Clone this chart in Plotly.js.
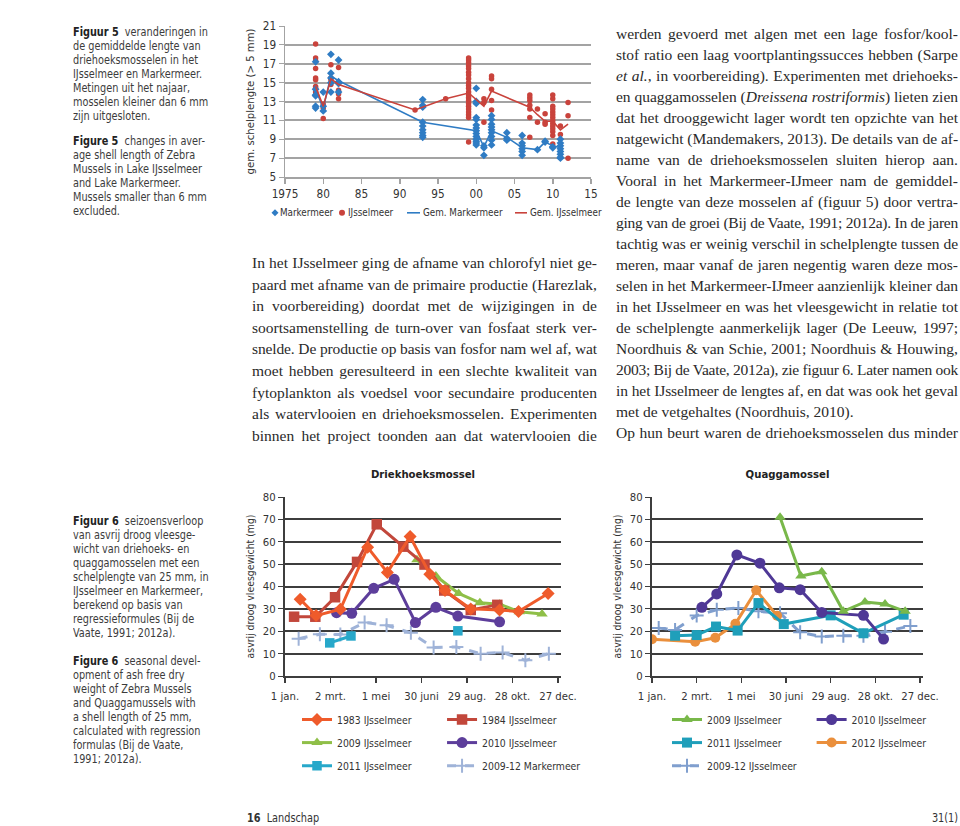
<!DOCTYPE html>
<html><head><meta charset="utf-8">
<script src="https://cdn.plot.ly/plotly-3.0.1.min.js"></script>
<style>
html,body{margin:0;padding:0;background:#fff;}
#page{position:relative;width:960px;height:826px;overflow:hidden;background:#fff;color:#333;}
.cap{position:absolute;left:73px;font-size:12px;line-height:14px;color:#3c3c3c;white-space:nowrap;transform-origin:0 0;}
.cap b{color:#222;}
.col{position:absolute;font-family:'Liberation Serif','DejaVu Serif',serif;font-size:15.5px;color:#2a2a2a;}
.ln{position:absolute;left:0;white-space:nowrap;}
.ln span{display:inline-block;white-space:nowrap;}
.plot{position:absolute;}
.foot{position:absolute;font-size:12px;line-height:14px;color:#333;white-space:nowrap;}
</style>
</head><body>
<div id="page">
  <div class="cap" id="cap5a" style="top:25px"><b>Figuur 5</b>&nbsp; veranderingen in<br>de gemiddelde lengte van<br>driehoeksmosselen in het<br>IJsselmeer en Markermeer.<br>Metingen uit het najaar,<br>mosselen kleiner dan 6 mm<br>zijn uitgesloten.</div>
  <div class="cap" id="cap5b" style="top:134px"><b>Figure 5</b>&nbsp; changes in aver-<br>age shell length of Zebra<br>Mussels in Lake IJsselmeer<br>and Lake Markermeer.<br>Mussels smaller than 6 mm<br>excluded.</div>
  <div class="cap" id="cap6a" style="top:514px"><b>Figuur 6</b>&nbsp; seizoensverloop<br>van asvrij droog vleesge-<br>wicht van driehoeks- en<br>quaggamosselen met een<br>schelplengte van 25 mm, in<br>IJsselmeer en Markermeer,<br>berekend op basis van<br>regressieformules (Bij de<br>Vaate, 1991; 2012a).</div>
  <div class="cap" id="cap6b" style="top:654px"><b>Figure 6</b>&nbsp; seasonal devel-<br>opment of ash free dry<br>weight of Zebra Mussels<br>and Quaggamussels with<br>a shell length of 25 mm,<br>calculated with regression<br>formulas (Bij de Vaate,<br>1991; 2012a).</div>
  <div class="col" id="colMid" style="left:252px;top:252px;width:345px"></div>
  <div class="col" id="colRight" style="left:616px;top:22.5px;width:342px"></div>
  <div class="plot" id="fig5" style="left:240px;top:15px;width:380px;height:215px"></div>
  <div class="plot" id="fig6a" style="left:230px;top:455px;width:370px;height:325px"></div>
  <div class="plot" id="fig6b" style="left:600px;top:455px;width:360px;height:325px"></div>
  <div class="foot" id="footL" style="left:247px;top:811px"><b>16</b>&nbsp; Landschap</div>
  <div class="foot" id="footR" style="right:2px;top:811px">31(1)</div>
</div>
<script>
// ---------- Figure 5 data: shell length per sample (year, values) ----------
const markermeerSamples = [
  [1979, [17.2, 14.3, 13.7, 13.6, 12.5, 12.3]],
  [1980, [14.0, 12.5, 12.0]],
  [1981, [18.0, 16.0, 15.5, 15.0, 14.0]],
  [1982, [17.4, 15.1, 14.9, 14.0]],
  [1993, [13.2, 12.6, 12.4, 10.8, 10.4, 10.0, 9.7, 9.4, 9.2]],
  [2000, [14.4, 13.0, 12.8, 11.3, 11.1, 10.5, 10.2, 9.9, 9.6, 9.3, 9.0, 8.8, 8.6, 8.4]],
  [2001, [8.3, 8.1, 7.3]],
  [2002, [11.5, 11.1, 10.6, 10.3, 10.0, 9.7, 9.3, 8.9, 8.4]],
  [2004, [9.7, 9.1, 8.9]],
  [2006, [9.4, 8.6, 8.3, 8.0, 7.7, 7.3]],
  [2008, [7.9]],
  [2009, [8.8, 8.7]],
  [2010, [8.2, 8.1]],
  [2011, [9.0, 8.6, 8.3, 8.0, 7.7, 7.4, 7.1, 7.0]]
];
const ijsselmeerSamples = [
  [1979, [19.1, 17.6, 17.3, 16.5, 15.5, 15.3, 14.6, 14.4, 14.0, 13.7]],
  [1980, [12.7, 12.3, 11.2]],
  [1981, [16.9, 15.5, 15.3, 14.8]],
  [1982, [16.6, 14.2, 13.8, 13.3]],
  [1992, [12.1]],
  [1996, [13.3]],
  [1999, [17.6, 17.4, 17.1, 16.8, 16.5, 16.1, 15.8, 15.4, 15.0, 14.7, 14.4, 14.0, 13.7, 13.4, 13.1, 12.8, 12.5, 12.2, 11.9, 11.6, 11.3, 8.7]],
  [2001, [13.3, 12.9, 10.8]],
  [2002, [15.7, 15.4, 14.3, 13.1, 12.1]],
  [2007, [13.7, 13.4, 13.1, 12.6, 12.2, 11.3, 9.2]],
  [2008, [12.2, 10.8]],
  [2009, [11.7, 10.8, 10.6]],
  [2010, [13.7, 13.3, 12.5, 12.2, 11.9, 11.6, 11.3, 11.0, 10.7, 10.4, 10.1, 9.8, 9.4, 8.5]],
  [2011, [10.4, 9.5]],
  [2012, [12.9, 11.5, 7.0]]
];
const mmMeanYears = [1979, 1980, 1981, 1982, 1993, 2000, 2001, 2002, 2004, 2006, 2008, 2009, 2010, 2011];
const mmMeanVals  = [14.3, 12.3, 15.7, 15.2, 10.8, 9.9, 8.2, 9.9, 9.2, 8.1, 7.9, 8.7, 8.3, 8.1];
const ijMeanYears = [1979, 1980, 1981, 1982, 1992, 1996, 1999, 2001, 2002, 2007, 2008, 2009, 2010, 2011, 2012];
const ijMeanVals  = [14.6, 12.5, 15.4, 14.8, 12.1, 13.3, 13.9, 12.5, 14.1, 12.4, 11.6, 10.9, 10.9, 10.0, 10.6];
const fig5TickVals = [1975, 1980, 1985, 1990, 1995, 2000, 2005, 2010, 2015];
const fig5TickText = ['1975', '80', '85', '90', '95', '00', '05', '10', '15'];
const fig5Names = ['Markermeer', 'IJsselmeer', 'Gem. Markermeer', 'Gem. IJsselmeer'];

// ---------- Figure 6 data: day of year, ash free dry weight (mg) ----------
const dayTickVals = [0, 60, 120, 180, 240, 300, 360];
const dayTickText = ['1 jan.', '2 mrt.', '1 mei', '30 juni', '29 aug.', '28 okt.', '27 dec.'];
// Driekhoeksmossel
const z1983Day = [20, 41, 73, 109, 135, 165, 191, 211, 245, 283, 308, 347];
const z1983Val = [34.3, 27.0, 29.8, 57.5, 46.3, 62.3, 45.5, 38.2, 30.0, 29.5, 28.8, 36.9];
const z1984Day = [12, 40, 66, 95, 121, 156, 184, 210, 245, 280];
const z1984Val = [26.5, 26.5, 35.2, 51.0, 67.8, 57.8, 49.8, 38.2, 29.5, 31.8];
const z2009Day = [174, 199, 229, 257, 283, 309, 339];
const z2009Val = [51.9, 44.7, 36.9, 32.7, 32.1, 28.7, 27.7];
const z2010Day = [68, 88, 117, 144, 172, 199, 228, 283];
const z2010Val = [28.3, 28.0, 39.2, 43.2, 23.9, 30.7, 26.8, 24.2];
const z2011Day = [59, 87, null, 228];
const z2011Val = [14.8, 17.9, null, 20.2];
const zMarkDay = [18, 46, 73, 105, 134, 166, 196, 226, 258, 287, 317, 348];
const zMarkVal = [16.7, 18.7, 18.5, 23.9, 22.7, 19.3, 12.7, 13.0, 10.0, 10.5, 7.0, 10.0];
// Quaggamossel
const q2009Day = [172, 200, 228, 257, 286, 313, 340];
const q2009Val = [71.0, 44.7, 46.6, 28.9, 33.1, 32.2, 28.9];
const q2010Day = [67, 87, 114, 145, 171, 199, 228, 284, 311];
const q2010Val = [30.7, 36.7, 54.1, 50.4, 39.4, 38.6, 28.4, 27.1, 16.5];
const q2011Day = [31, 60, 86, 115, 143, 177, 240, 284, 338];
const q2011Val = [18.0, 18.3, 22.1, 20.3, 32.6, 23.2, 27.1, 19.1, 27.4];
const q2012Day = [0, 58, 85, 112, 140, 168];
const q2012Val = [16.4, 15.3, 17.1, 23.3, 38.3, 26.9];
const qIJDay = [9, 31, 60, 87, 116, 143, 172, 199, 228, 257, 284, 313, 347];
const qIJVal = [21.4, 20.6, 27.0, 29.6, 30.4, 28.9, 28.1, 19.5, 17.6, 18.0, 18.0, 19.8, 22.4];

// ---------- body text ----------
const midLines = [
  'In het IJsselmeer ging de afname van chlorofyl niet ge-',
  'paard met afname van de primaire productie (Harezlak,',
  'in voorbereiding) doordat met de wijzigingen in de',
  'soortsamenstelling de turn-over van fosfaat sterk ver-',
  'snelde. De productie op basis van fosfor nam wel af, wat',
  'moet hebben geresulteerd in een slechte kwaliteit van',
  'fytoplankton als voedsel voor secundaire producenten',
  'als watervlooien en driehoeksmosselen. Experimenten',
  'binnen het project toonden aan dat watervlooien die'
];
const rightLines = [
  'werden gevoerd met algen met een lage fosfor/kool-',
  'stof ratio een laag voortplantingssucces hebben (Sarpe',
  '<i>et al.</i>, in voorbereiding). Experimenten met driehoeks-',
  'en quaggamosselen (<i>Dreissena rostriformis</i>) lieten zien',
  'dat het drooggewicht lager wordt ten opzichte van het',
  'natgewicht (Mandemakers, 2013). De details van de af-',
  'name van de driehoeksmosselen sluiten hierop aan.',
  'Vooral in het Markermeer-IJmeer nam de gemiddel-',
  'de lengte van deze mosselen af (figuur 5) door vertra-',
  'ging van de groei (Bij de Vaate, 1991; 2012a). In de jaren',
  'tachtig was er weinig verschil in schelplengte tussen de',
  'meren, maar vanaf de jaren negentig waren deze mos-',
  'selen in het Markermeer-IJmeer aanzienlijk kleiner dan',
  'in het IJsselmeer en was het vleesgewicht in relatie tot',
  'de schelplengte aanmerkelijk lager (De Leeuw, 1997;',
  'Noordhuis &amp; van Schie, 2001; Noordhuis &amp; Houwing,',
  '2003; Bij de Vaate, 2012a), zie figuur 6. Later namen ook',
  'in het IJsselmeer de lengtes af, en dat was ook het geval',
  '!met de vetgehaltes (Noordhuis, 2010).',
  'Op hun beurt waren de driehoeksmosselen dus minder'
];

function hasFont(name){
  const c = document.createElement('canvas').getContext('2d');
  const s = 'mmmmmmmmmmlli1WQ@abcdefghijklmnop';
  for (const base of ['monospace','serif']) {
    c.font = '32px ' + base; const a = c.measureText(s).width;
    c.font = '32px "' + name + '",' + base; const b = c.measureText(s).width;
    if (a !== b) return true;
  }
  return false;
}
const narrowList = ['Liberation Sans Narrow','DejaVu Sans Condensed','Roboto Condensed','Open Sans Condensed','Arial Narrow'];
const found = narrowList.find(hasFont);
const SANS = found || 'Roboto';
const F = '"' + SANS + '", sans-serif';
const fs = found ? 0.9 : 0.8;

function textWidth(str, size){
  const probe = document.createElement('span');
  probe.style.cssText = 'position:absolute;visibility:hidden;white-space:nowrap;font-size:' + size + 'px;font-family:' + F;
  probe.textContent = str;
  document.body.appendChild(probe);
  const w = probe.getBoundingClientRect().width;
  probe.remove();
  return w;
}
const capScale = 129 / textWidth('Mussels in Lake IJsselmeer', 12);

// captions & footer font + fit
document.querySelectorAll('.cap,.foot').forEach(el => { el.style.fontFamily = F; });
document.querySelectorAll('.cap').forEach(el => { el.style.transform = 'scaleX(' + capScale.toFixed(3) + ')'; });
document.querySelectorAll('.foot').forEach(el => { el.style.transform = 'scaleX(' + capScale.toFixed(3) + ')'; el.style.transformOrigin = (el.id === 'footR') ? '100% 0' : '0 0'; });

function buildCol(id, lines, lh){
  const col = document.getElementById(id);
  const target = parseFloat(col.style.width);
  lines.forEach((t, i) => {
    const noJust = t.startsWith('!');
    const txt = noJust ? t.slice(1) : t;
    const d = document.createElement('div');
    d.className = 'ln';
    d.style.top = (i * lh) + 'px';
    d.style.lineHeight = lh + 'px';
    const sp = document.createElement('span');
    sp.innerHTML = txt;
    d.appendChild(sp);
    col.appendChild(d);
    const w = sp.getBoundingClientRect().width;
    const spaces = (sp.textContent.match(/ /g) || []).length;
    if (w > target) {
      const chars = sp.textContent.length;
      sp.style.letterSpacing = ((target - w) / chars) + 'px';
    } else if (!noJust && spaces > 0) {
      sp.style.wordSpacing = ((target - w) / spaces) + 'px';
    }
  });
}
buildCol('colMid', midLines, 21.6);
buildCol('colRight', rightLines, 21.05);

function flatten(samples){
  const x = [], y = [];
  samples.forEach(([yr, vals]) => vals.forEach(v => { x.push(yr); y.push(v); }));
  return {x, y};
}
const mm = flatten(markermeerSamples);
const ij = flatten(ijsselmeerSamples);

const BLUE = '#2f7cc4', RED = '#c9433c';
const cfg = {staticPlot: true, displayModeBar: false};
function leg(x, y, size){
  return {x: x, y: y, xanchor: 'left', yanchor: 'middle', orientation: 'v', bgcolor: 'rgba(0,0,0,0)',
          borderwidth: 0, font: {family: F, size: size, color: '#333'}, itemwidth: 30};
}

// ---------- Figure 5 ----------
(function(){
  const data = [
    {type: 'scatter', mode: 'markers', x: ij.x, y: ij.y, name: fig5Names[1], showlegend: false,
     marker: {symbol: 'circle', size: 5.5, color: RED}},
    {type: 'scatter', mode: 'markers', x: mm.x, y: mm.y, name: fig5Names[0], showlegend: false,
     marker: {symbol: 'diamond', size: 6, color: BLUE}},
    {type: 'scatter', mode: 'lines', x: mmMeanYears, y: mmMeanVals, name: fig5Names[2], showlegend: false,
     line: {color: BLUE, width: 1.6}},
    {type: 'scatter', mode: 'lines', x: ijMeanYears, y: ijMeanVals, name: fig5Names[3], showlegend: false,
     line: {color: RED, width: 1.6}}
  ];
  const GR = '#a3a3a3';
  // compact legend row (paper coords; plot spans page x 285..591, y bottom 177.1, height 151.4)
  const px = p => (p - 285) / 306;
  const LY = (177.1 - 213) / 151.4;
  const textX = [279, 347, 422, 529];
  const annotations = fig5Names.map((n, i) => ({
    text: n, xref: 'paper', yref: 'paper', x: px(textX[i]), y: LY, xanchor: 'left', yanchor: 'middle',
    showarrow: false, borderpad: 0, font: {family: F, size: 11.5 * 0.85, color: '#333'}
  }));
  const shapes = [
    {type: 'path', xref: 'paper', yref: 'paper', xsizemode: 'pixel', ysizemode: 'pixel',
     xanchor: px(275), yanchor: LY, path: 'M0,3.5 L3.5,0 L0,-3.5 L-3.5,0 Z', fillcolor: BLUE, line: {width: 0}},
    {type: 'circle', xref: 'paper', yref: 'paper', xsizemode: 'pixel', ysizemode: 'pixel',
     xanchor: px(342), yanchor: LY, x0: -3, x1: 3, y0: -3, y1: 3, fillcolor: RED, line: {width: 0}},
    {type: 'line', xref: 'paper', yref: 'paper', x0: px(407), x1: px(420), y0: LY, y1: LY, line: {color: BLUE, width: 1.6}},
    {type: 'line', xref: 'paper', yref: 'paper', x0: px(515), x1: px(527), y0: LY, y1: LY, line: {color: RED, width: 1.6}}
  ];
  const layout = {
    width: 380, height: 215, margin: {l: 45, r: 29, t: 10.7, b: 52.9, autoexpand: false},
    paper_bgcolor: 'rgba(0,0,0,0)', plot_bgcolor: 'rgba(0,0,0,0)',
    font: {family: F, size: 12 * fs, color: '#333'},
    showlegend: false, annotations: annotations, shapes: shapes,
    xaxis: {range: [1975, 2015], tickvals: fig5TickVals, ticktext: fig5TickText, showgrid: false,
            showline: true, linecolor: GR, linewidth: 1.5, ticks: 'outside', ticklen: 5, tickcolor: GR,
            tickwidth: 1.5, zeroline: false, automargin: false, tickfont: {size: 13 * fs, color: '#333'}},
    yaxis: {range: [5, 21], tick0: 5, dtick: 2, showgrid: true, gridcolor: GR, gridwidth: 2,
            showline: true, linecolor: GR, linewidth: 1.5, ticks: 'outside', ticklen: 5, tickcolor: GR,
            zeroline: false, automargin: false, tickfont: {size: 13 * fs, color: '#333'},
            title: {text: 'gem. schelplengte (> 5 mm)', font: {size: 12.5 * fs, color: '#333'}, standoff: 6}}
  };
  Plotly.newPlot('fig5', data, layout, cfg);
})();

// ---------- Figure 6 ----------
const DK = '#3d3d3d';
function fig6Layout(title, l, r, pw, legends){
  const H = 325, t = 42.3, ph = 178.4, b = H - t - ph;
  const lay = {
    width: l + r + pw, height: H,
    margin: {l: l, r: r, t: t, b: b, autoexpand: false},
    paper_bgcolor: 'rgba(0,0,0,0)', plot_bgcolor: 'rgba(0,0,0,0)',
    font: {family: F, size: 12 * fs, color: '#333'},
    showlegend: true,
    title: {text: '<b>' + title + '</b>', font: {family: F, size: 12.5 * fs, color: '#222'},
            x: 0.5, xref: 'paper', y: 1 - 19 / H, yref: 'container', yanchor: 'middle'},
    xaxis: {range: [0, 364], tickvals: dayTickVals, ticktext: dayTickText, showgrid: false,
            showline: true, linecolor: DK, linewidth: 2, ticks: 'outside', ticklen: 5, tickcolor: DK,
            tickwidth: 1.5, zeroline: false, automargin: false, ticklabelstandoff: 3, tickfont: {size: 12.5 * fs, color: '#333'}},
    yaxis: {range: [0, 80], dtick: 10, showgrid: true, gridcolor: DK, gridwidth: 2,
            showline: true, linecolor: DK, linewidth: 2, ticks: 'outside', ticklen: 5, tickcolor: DK,
            zeroline: false, automargin: false, tickfont: {size: 12.5 * fs, color: '#333'},
            title: {text: 'asvrij droog vleesgewicht (mg)', font: {size: 11.5 * fs, color: '#333'}, standoff: 6}}
  };
  legends.forEach((p, i) => { lay[i === 0 ? 'legend' : 'legend' + (i + 1)] = leg(p[0], p[1], 11.5 * fs); });
  return lay;
}
function series(x, y, name, color, symbol, size, legend, dash){
  const tr = {type: 'scatter', mode: 'lines+markers', x: x, y: y, name: name, legend: legend,
    line: {color: color, width: 3, dash: dash || 'solid'},
    marker: {symbol: symbol, size: size, color: color}, connectgaps: false};
  if (symbol === 'cross-thin') tr.marker = {symbol: 'cross-thin', size: size, color: color, line: {color: color, width: 2}};
  return tr;
}
// legend rows at page y 719, 742, 765; plot bottom at 675.7, height 178.4
const rowsL = [-0.243, -0.372, -0.501];
(function(){
  const data = [
    series(zMarkDay, zMarkVal, '2009-12 Markermeer', '#9fb3d8', 'cross-thin', 10, 'legend6', 'dash'),
    series(z2011Day, z2011Val, '2011 IJsselmeer', '#27a8ca', 'square', 9.5, 'legend5'),
    series(z2010Day, z2010Val, '2010 IJsselmeer', '#5d3e9b', 'circle', 11, 'legend4'),
    series(z2009Day, z2009Val, '2009 IJsselmeer', '#8fbf48', 'triangle-up', 10, 'legend3'),
    series(z1984Day, z1984Val, '1984 IJsselmeer', '#c2473b', 'square', 10.5, 'legend2'),
    series(z1983Day, z1983Val, '1983 IJsselmeer', '#ef5b2b', 'diamond', 10, 'legend')
  ];
  const lay = fig6Layout('Driekhoeksmossel', 55, 39.3, 275.7,
    [[0.0435, rowsL[0]], [0.569, rowsL[0]], [0.0435, rowsL[1]], [0.569, rowsL[1]], [0.0435, rowsL[2]], [0.569, rowsL[2]]]);
  Plotly.newPlot('fig6a', data, lay, cfg);
})();
(function(){
  const data = [
    series(qIJDay, qIJVal, '2009-12 IJsselmeer', '#809fce', 'cross-thin', 10, 'legend5', 'dash'),
    series(q2012Day, q2012Val, '2012 IJsselmeer', '#ea8f3c', 'circle', 10, 'legend4'),
    series(q2011Day, q2011Val, '2011 IJsselmeer', '#1f9fba', 'square', 10, 'legend3'),
    series(q2010Day, q2010Val, '2010 IJsselmeer', '#4f3896', 'circle', 11, 'legend2'),
    series(q2009Day, q2009Val, '2009 IJsselmeer', '#79b84a', 'triangle-up', 10, 'legend')
  ];
  const lay = fig6Layout('Quaggamossel', 52, 37, 271,
    [[0.0554, rowsL[0]], [0.589, rowsL[0]], [0.0554, rowsL[1]], [0.589, rowsL[1]], [0.0554, rowsL[2]]]);
  Plotly.newPlot('fig6b', data, lay, cfg);
})();
</script>
</body></html>
